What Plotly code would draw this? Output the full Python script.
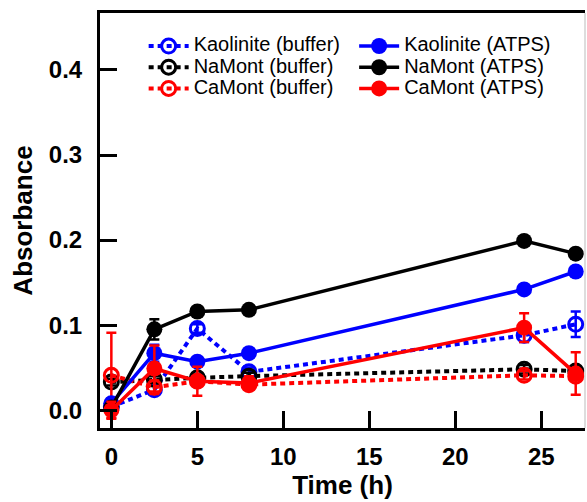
import plotly.graph_objects as go

# ---- data ----
time_h = [0, 2.5, 5, 8, 24, 27]

kaolinite_buffer = [0.004, 0.024, 0.096, 0.045, 0.088, 0.101]
kaolinite_buffer_err = [0.004, 0.005, 0.005, 0.005, 0.008, 0.015]
namont_buffer = [0.033, 0.036, 0.038, 0.040, 0.048, 0.046]
namont_buffer_err = [0.004, 0.004, 0.004, 0.004, 0.005, 0.005]
camont_buffer = [0.041, 0.027, 0.034, 0.030, 0.041, 0.040]
camont_buffer_err = [0.050, 0.008, 0.005, 0.006, 0.005, 0.005]

kaolinite_atps = [0.008, 0.067, 0.057, 0.067, 0.142, 0.163]
kaolinite_atps_err = [0.006, 0.010, 0.004, 0.004, 0.004, 0.004]
namont_atps = [0.003, 0.095, 0.116, 0.118, 0.199, 0.184]
namont_atps_err = [0.004, 0.012, 0.004, 0.004, 0.004, 0.004]
camont_atps = [0.000, 0.049, 0.034, 0.032, 0.097, 0.043]
camont_atps_err = [0.010, 0.027, 0.017, 0.008, 0.017, 0.025]

x_ticks = [0, 5, 10, 15, 20, 25]
y_ticks = [0.0, 0.1, 0.2, 0.3, 0.4]

BLUE = "#0000FF"
BLACK = "#000000"
RED = "#FF0000"
FONT = "Liberation Sans, Arial, sans-serif"
LEGEND_TEXT_PX = 20


def legend_name(s):
    return f'<span style="font-size:{LEGEND_TEXT_PX}px">{s}</span>'


fig = go.Figure()

buffer_series = [
    ("Kaolinite (buffer)", kaolinite_buffer, kaolinite_buffer_err, BLUE),
    ("NaMont (buffer)", namont_buffer, namont_buffer_err, BLACK),
    ("CaMont (buffer)", camont_buffer, camont_buffer_err, RED),
]
atps_series = [
    ("Kaolinite (ATPS)", kaolinite_atps, kaolinite_atps_err, BLUE),
    ("NaMont (ATPS)", namont_atps, namont_atps_err, BLACK),
    ("CaMont (ATPS)", camont_atps, camont_atps_err, RED),
]

for name, ys, err, col in buffer_series:
    fig.add_trace(go.Scatter(
        x=time_h, y=ys, name=legend_name(name), mode="lines+markers",
        line=dict(color=col, width=4, dash="5px,4px"),
        marker=dict(symbol="circle-open", size=14, color=col, line=dict(width=3, color=col)),
        error_y=dict(type="data", array=err, visible=True, color=col, thickness=2.5, width=5),
        legend="legend",
    ))

for name, ys, err, col in atps_series:
    fig.add_trace(go.Scatter(
        x=time_h, y=ys, name=legend_name(name), mode="lines+markers",
        line=dict(color=col, width=3.5),
        marker=dict(symbol="circle", size=16, color=col),
        error_y=dict(type="data", array=err, visible=True, color=col, thickness=2.5, width=5),
        legend="legend2",
    ))

axis_common = dict(
    showline=True, linecolor="black", linewidth=3,
    ticks="inside", ticklen=17, tickwidth=3, tickcolor="black",
    showgrid=False, zeroline=False,
    tickfont=dict(family=FONT, size=24, color="black", weight="bold"),
)

legend_common = dict(
    yanchor="top", xanchor="left",
    bgcolor="rgba(0,0,0,0)", font=dict(family=FONT, size=14, color="black"),
    itemwidth=40, tracegroupgap=0,
)

fig.update_layout(
    width=587, height=502,
    margin=dict(l=100, r=2, t=13, b=74),
    paper_bgcolor="white", plot_bgcolor="white",
    font=dict(family=FONT, color="black"),
    xaxis=dict(
        **axis_common, range=[-0.66, 27.54], tickvals=x_ticks,
        mirror=True, ticklabelstandoff=5,
        title=dict(text="Time (h)", font=dict(family=FONT, size=26, weight="bold"), standoff=8),
    ),
    yaxis=dict(
        **axis_common, range=[-0.021, 0.467], tickvals=y_ticks, tickformat=".1f",
        ticklabelstandoff=10,
        title=dict(text="Absorbance", font=dict(family=FONT, size=26, weight="bold"), standoff=9),
    ),
    legend=dict(x=0.090, y=0.958, **legend_common),
    legend2=dict(x=0.524, y=0.958, **legend_common),
    showlegend=True,
    shapes=[dict(type="line", xref="paper", yref="paper", x0=1, x1=1, y0=0, y1=1,
                 line=dict(color="#BBBBBB", width=1))],
)

fig.write_html("out.html")
